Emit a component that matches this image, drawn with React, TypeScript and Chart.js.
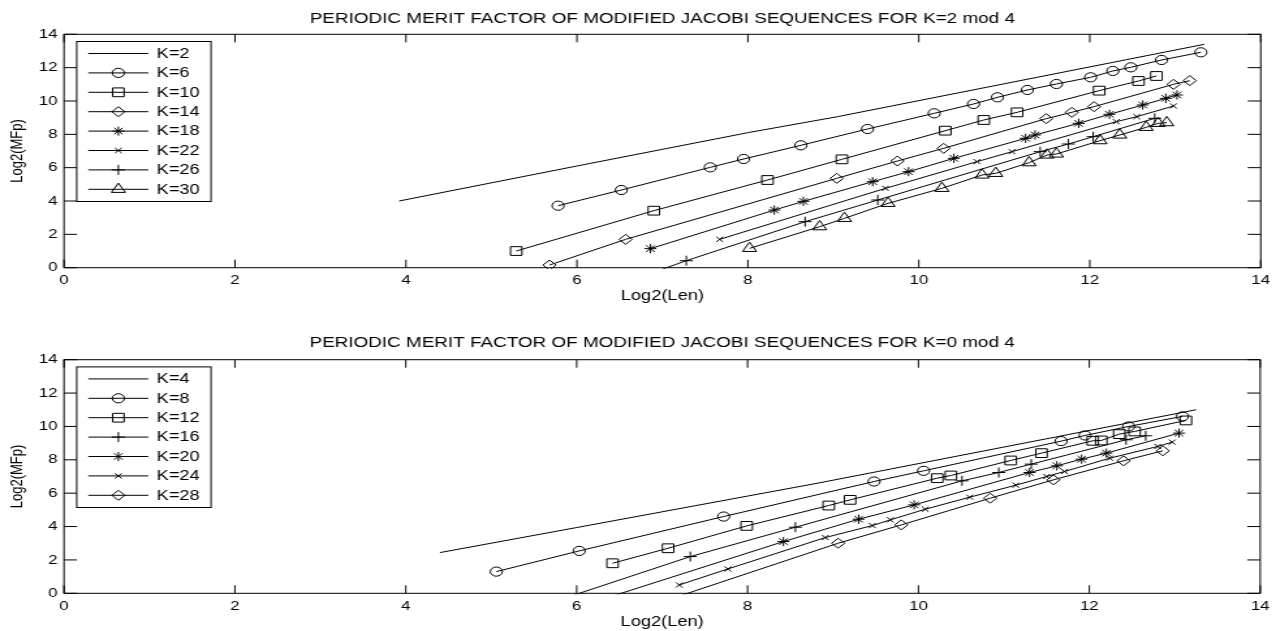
import React, { useEffect, useRef } from 'react';
import { Chart, registerables } from 'chart.js';

Chart.register(...registerables);

const FONT = "'Liberation Sans', Arial, Helvetica, sans-serif";
const BASE_W = 980;
const PAGE_W = 1276;
const SX = PAGE_W / BASE_W;

// ---- axis ticks ----
const xTickValues = [0, 2, 4, 6, 8, 10, 12, 14];
const yTickValues = [0, 2, 4, 6, 8, 10, 12, 14];

// ---- top chart: K = 2 mod 4 ----
const topTitle = 'PERIODIC MERIT FACTOR OF MODIFIED JACOBI SEQUENCES FOR K=2 mod 4';
const k2X = [3.92, 6.0, 8.0, 9.05, 13.34];
const k2Y = [4.0, 6.1, 8.1, 9.06, 13.4];
const k6X = [5.78, 6.52, 7.56, 7.95, 8.62, 9.4, 10.18, 10.64, 10.92, 11.27, 11.61, 12.01, 12.27, 12.48, 12.84, 13.3];
const k6Y = [3.72, 4.66, 6.02, 6.52, 7.34, 8.32, 9.26, 9.82, 10.22, 10.66, 11.02, 11.42, 11.8, 12.02, 12.46, 12.92];
const k10X = [5.29, 6.9, 8.23, 9.1, 10.31, 10.76, 11.15, 12.11, 12.57, 12.78];
const k10Y = [1.0, 3.42, 5.26, 6.5, 8.22, 8.86, 9.32, 10.62, 11.2, 11.5];
const k14X = [5.68, 6.57, 9.04, 9.75, 10.29, 11.49, 11.79, 12.05, 12.98, 13.17];
const k14Y = [0.16, 1.7, 5.36, 6.4, 7.16, 8.94, 9.32, 9.66, 11.0, 11.22];
const k18X = [6.86, 8.31, 8.65, 9.46, 9.88, 10.41, 11.25, 11.36, 11.87, 12.23, 12.62, 12.89, 13.02];
const k18Y = [1.14, 3.46, 3.98, 5.16, 5.76, 6.56, 7.76, 7.96, 8.66, 9.2, 9.76, 10.16, 10.36];
const k22X = [7.67, 9.61, 10.68, 11.09, 12.31, 12.55, 12.98];
const k22Y = [1.7, 4.76, 6.36, 6.96, 8.76, 9.06, 9.7];
const k26X = [6.5, 7.28, 8.67, 9.52, 11.42, 11.75, 12.04, 12.76];
const k26Y = [-1.0, 0.42, 2.76, 4.06, 6.96, 7.42, 7.86, 8.96];
const k30X = [8.02, 8.84, 9.13, 9.64, 10.27, 10.74, 10.9, 11.29, 11.5, 11.61, 12.12, 12.35, 12.66, 12.8, 12.9];
const k30Y = [1.16, 2.46, 2.96, 3.86, 4.76, 5.56, 5.66, 6.3, 6.76, 6.82, 7.62, 7.96, 8.42, 8.66, 8.7];

// ---- bottom chart: K = 0 mod 4 ----
const bottomTitle = 'PERIODIC MERIT FACTOR OF MODIFIED JACOBI SEQUENCES FOR K=0 mod 4';
const k4X = [4.4, 6.0, 8.82, 13.25];
const k4Y = [2.44, 3.94, 6.6, 11.0];
const k8X = [5.06, 6.03, 7.72, 9.48, 10.06, 11.67, 11.95, 12.46, 13.09];
const k8Y = [1.3, 2.54, 4.6, 6.7, 7.34, 9.12, 9.46, 10.0, 10.6];
const k12X = [6.42, 7.07, 7.99, 8.95, 9.2, 10.22, 10.38, 11.08, 11.44, 12.04, 12.14, 12.35, 12.53, 13.13];
const k12Y = [1.8, 2.7, 4.04, 5.26, 5.6, 6.9, 7.06, 7.96, 8.4, 9.14, 9.16, 9.54, 9.7, 10.36];
const k16X = [5.5, 7.33, 8.56, 10.51, 10.94, 11.32, 12.43, 12.66];
const k16Y = [-0.9, 2.2, 3.96, 6.74, 7.24, 7.74, 9.2, 9.44];
const k20X = [6.0, 8.42, 9.3, 9.95, 11.3, 11.62, 11.91, 12.2, 13.05];
const k20Y = [-0.85, 3.1, 4.44, 5.3, 7.24, 7.64, 8.04, 8.4, 9.6];
const k24X = [7.2, 7.77, 8.91, 9.46, 9.67, 10.08, 10.6, 11.14, 11.5, 11.71, 12.24, 12.8, 12.97];
const k24Y = [0.5, 1.46, 3.34, 4.06, 4.4, 5.04, 5.76, 6.48, 7.0, 7.3, 8.1, 8.8, 9.06];
const k28X = [6.8, 9.06, 9.8, 10.84, 11.58, 12.4, 12.86];
const k28Y = [-0.85, 3.0, 4.1, 5.7, 6.8, 7.94, 8.54];

type Marker = { style: string | null; r: number };
const MK_NONE: Marker = { style: null, r: 0 };
const MK_CIRCLE: Marker = { style: 'circle', r: 4.6 };
const MK_SQUARE: Marker = { style: 'rect', r: 6.2 };
const MK_DIAMOND: Marker = { style: 'rectRot', r: 5 };
const MK_STAR: Marker = { style: 'star', r: 4.6 };
const MK_X: Marker = { style: 'crossRot', r: 3.6 };
const MK_PLUS: Marker = { style: 'cross', r: 5 };
const MK_TRI: Marker = { style: 'triangle', r: 6.2 };

type Series = { label: string; xs: number[]; ys: number[]; mk: Marker };

const topSeries: Series[] = [
  { label: 'K=2', xs: k2X, ys: k2Y, mk: MK_NONE },
  { label: 'K=6', xs: k6X, ys: k6Y, mk: MK_CIRCLE },
  { label: 'K=10', xs: k10X, ys: k10Y, mk: MK_SQUARE },
  { label: 'K=14', xs: k14X, ys: k14Y, mk: MK_DIAMOND },
  { label: 'K=18', xs: k18X, ys: k18Y, mk: MK_STAR },
  { label: 'K=22', xs: k22X, ys: k22Y, mk: MK_X },
  { label: 'K=26', xs: k26X, ys: k26Y, mk: MK_PLUS },
  { label: 'K=30', xs: k30X, ys: k30Y, mk: MK_TRI },
];

const bottomSeries: Series[] = [
  { label: 'K=4', xs: k4X, ys: k4Y, mk: MK_NONE },
  { label: 'K=8', xs: k8X, ys: k8Y, mk: MK_CIRCLE },
  { label: 'K=12', xs: k12X, ys: k12Y, mk: MK_SQUARE },
  { label: 'K=16', xs: k16X, ys: k16Y, mk: MK_PLUS },
  { label: 'K=20', xs: k20X, ys: k20Y, mk: MK_STAR },
  { label: 'K=24', xs: k24X, ys: k24Y, mk: MK_X },
  { label: 'K=28', xs: k28X, ys: k28Y, mk: MK_DIAMOND },
];

function drawMarker(ctx: CanvasRenderingContext2D, style: string, x: number, y: number, r: number) {
  ctx.beginPath();
  const q = Math.SQRT1_2 * r;
  switch (style) {
    case 'circle':
      ctx.arc(x, y, r, 0, Math.PI * 2);
      break;
    case 'rect':
      ctx.rect(x - q, y - q, 2 * q, 2 * q);
      break;
    case 'rectRot':
      ctx.moveTo(x, y - r);
      ctx.lineTo(x + r, y);
      ctx.lineTo(x, y + r);
      ctx.lineTo(x - r, y);
      ctx.closePath();
      break;
    case 'triangle':
      ctx.moveTo(x, y - r);
      ctx.lineTo(x + 0.866 * r, y + 0.5 * r);
      ctx.lineTo(x - 0.866 * r, y + 0.5 * r);
      ctx.closePath();
      break;
    case 'cross':
      ctx.moveTo(x - r, y); ctx.lineTo(x + r, y);
      ctx.moveTo(x, y - r); ctx.lineTo(x, y + r);
      break;
    case 'crossRot':
      ctx.moveTo(x - q, y - q); ctx.lineTo(x + q, y + q);
      ctx.moveTo(x - q, y + q); ctx.lineTo(x + q, y - q);
      break;
    case 'star':
      ctx.moveTo(x - r, y); ctx.lineTo(x + r, y);
      ctx.moveTo(x, y - r); ctx.lineTo(x, y + r);
      ctx.moveTo(x - q, y - q); ctx.lineTo(x + q, y + q);
      ctx.moveTo(x - q, y + q); ctx.lineTo(x + q, y - q);
      break;
  }
  ctx.stroke();
}

const framePlugin = {
  id: 'matlabFrame',
  afterDatasetsDraw(chart: any) {
    const { ctx, chartArea: a, scales } = chart;
    const xs = scales.x;
    const ys = scales.y;
    ctx.save();
    ctx.strokeStyle = '#000';
    ctx.lineWidth = 1;
    ctx.strokeRect(a.left, a.top, a.right - a.left, a.bottom - a.top);
    ctx.beginPath();
    for (const v of xTickValues) {
      const px = xs.getPixelForValue(v);
      ctx.moveTo(px, a.bottom); ctx.lineTo(px, a.bottom - 8);
      ctx.moveTo(px, a.top); ctx.lineTo(px, a.top + 8);
    }
    for (const v of yTickValues) {
      const py = ys.getPixelForValue(v);
      ctx.moveTo(a.left, py); ctx.lineTo(a.left + 10, py);
      ctx.moveTo(a.right, py); ctx.lineTo(a.right - 10, py);
    }
    ctx.stroke();
    ctx.restore();
  },
};

const legendPlugin = {
  id: 'boxLegend',
  afterDraw(chart: any, _args: any, opts: any) {
    const series: Series[] = opts.series || [];
    const { ctx, chartArea: a } = chart;
    const rowH = 19.4;
    const boxX = a.left + 9.75;
    const boxY = a.top + 7.2;
    const boxW = 103.2;
    const boxH = 12 + (series.length - 1) * rowH + 12.2;
    ctx.save();
    ctx.fillStyle = '#fff';
    ctx.fillRect(boxX, boxY, boxW, boxH);
    ctx.strokeStyle = '#000';
    ctx.lineWidth = 1;
    ctx.strokeRect(boxX, boxY, boxW, boxH);
    ctx.font = `14px ${FONT}`;
    ctx.textBaseline = 'middle';
    ctx.textAlign = 'left';
    series.forEach((s, i) => {
      const cy = boxY + 12 + i * rowH;
      ctx.beginPath();
      ctx.moveTo(boxX + 8.9, cy);
      ctx.lineTo(boxX + 55, cy);
      ctx.stroke();
      if (s.mk.style) drawMarker(ctx, s.mk.style, boxX + 32, cy, s.mk.r);
      ctx.fillStyle = '#000';
      ctx.fillText(s.label, boxX + 61.4, cy + 0.5);
    });
    ctx.restore();
  },
};

type Layout = {
  height: number;
  titlePadTop: number;
  titlePadBottom: number;
  xScaleHeight: number;
  xTickPad: number;
  xTitlePadBottom: number;
};

function buildConfig(title: string, series: Series[], lay: Layout): any {
  const datasets = series.map((s) => ({
    label: s.label,
    data: s.xs.map((x, i) => ({ x, y: s.ys[i] })),
    borderColor: '#000',
    borderWidth: 1,
    backgroundColor: 'rgba(0,0,0,0)',
    fill: false,
    tension: 0,
    pointStyle: s.mk.style || 'circle',
    pointRadius: s.mk.style ? s.mk.r : 0,
    pointHoverRadius: s.mk.style ? s.mk.r : 0,
    pointBorderColor: '#000',
    pointBackgroundColor: 'rgba(0,0,0,0)',
    pointBorderWidth: 1,
    clip: { left: 8, right: 8, top: 8, bottom: 1 },
  }));
  return {
    type: 'line',
    data: { datasets },
    plugins: [framePlugin, legendPlugin],
    options: {
      animation: false,
      responsive: false,
      events: [],
      layout: { padding: { left: 0, right: BASE_W - 1265 / SX, top: 0, bottom: 0 } },
      plugins: {
        legend: { display: false },
        tooltip: { enabled: false },
        boxLegend: { series },
        title: {
          display: true,
          text: title,
          fullSize: false,
          color: '#000',
          font: { family: FONT, size: 14.5, weight: 'normal', lineHeight: 1.2 },
          padding: { top: lay.titlePadTop, bottom: lay.titlePadBottom },
        },
      },
      scales: {
        x: {
          type: 'linear',
          min: 0,
          max: 14,
          grid: { display: false, drawTicks: false },
          border: { display: false },
          afterBuildTicks: (scale: any) => {
            scale.ticks = xTickValues.map((v) => ({ value: v }));
          },
          ticks: {
            color: '#000',
            font: { family: FONT, size: 13, lineHeight: 1.2 },
            padding: lay.xTickPad,
            maxRotation: 0,
            autoSkip: false,
          },
          title: {
            display: true,
            text: 'Log2(Len)',
            color: '#000',
            font: { family: FONT, size: 14, lineHeight: 1.2 },
            padding: { top: 0, bottom: lay.xTitlePadBottom },
          },
          afterFit: (scale: any) => {
            scale.height = lay.xScaleHeight;
          },
        },
        y: {
          type: 'linear',
          min: 0,
          max: 14,
          grid: { display: false, drawTicks: false },
          border: { display: false },
          afterBuildTicks: (scale: any) => {
            scale.ticks = yTickValues.map((v) => ({ value: v }));
          },
          ticks: {
            color: '#000',
            font: { family: FONT, size: 13, lineHeight: 1.2 },
            padding: 5,
            autoSkip: false,
          },
          title: {
            display: true,
            text: 'Log2(MFp)',
            color: '#000',
            font: { family: FONT, size: 13, lineHeight: 1.2 },
            padding: { top: 5.8, bottom: 0 },
          },
          afterFit: (scale: any) => {
            scale.width = 64 / SX;
          },
        },
      },
    },
  };
}

const topLayout: Layout = {
  height: 315,
  titlePadTop: 10.3,
  titlePadBottom: 6.6,
  xScaleHeight: 315 - 267.7,
  xTickPad: 4.5,
  xTitlePadBottom: 10.6,
};

const bottomLayout: Layout = {
  height: 316,
  titlePadTop: 19.3,
  titlePadBottom: 8.0,
  xScaleHeight: 316 - 278.3,
  xTickPad: 4.9,
  xTitlePadBottom: 0.6,
};

function Panel({ title, series, lay }: { title: string; series: Series[]; lay: Layout }) {
  const ref = useRef<HTMLCanvasElement | null>(null);
  useEffect(() => {
    if (!ref.current) return;
    const chart = new Chart(ref.current, buildConfig(title, series, lay));
    return () => chart.destroy();
  }, [title, series, lay]);
  return (
    <div style={{ width: PAGE_W, height: lay.height, overflow: 'hidden', position: 'relative' }}>
      <canvas
        ref={ref}
        width={BASE_W}
        height={lay.height}
        style={{
          display: 'block',
          width: BASE_W,
          height: lay.height,
          transform: `scaleX(${SX})`,
          transformOrigin: '0 0',
        }}
      />
    </div>
  );
}

export default function App() {
  return (
    <div
      style={{
        position: 'absolute',
        left: 0,
        top: 0,
        width: PAGE_W,
        height: 631,
        background: '#fff',
        overflow: 'hidden',
      }}
    >
      <Panel title={topTitle} series={topSeries} lay={topLayout} />
      <Panel title={bottomTitle} series={bottomSeries} lay={bottomLayout} />
    </div>
  );
}
